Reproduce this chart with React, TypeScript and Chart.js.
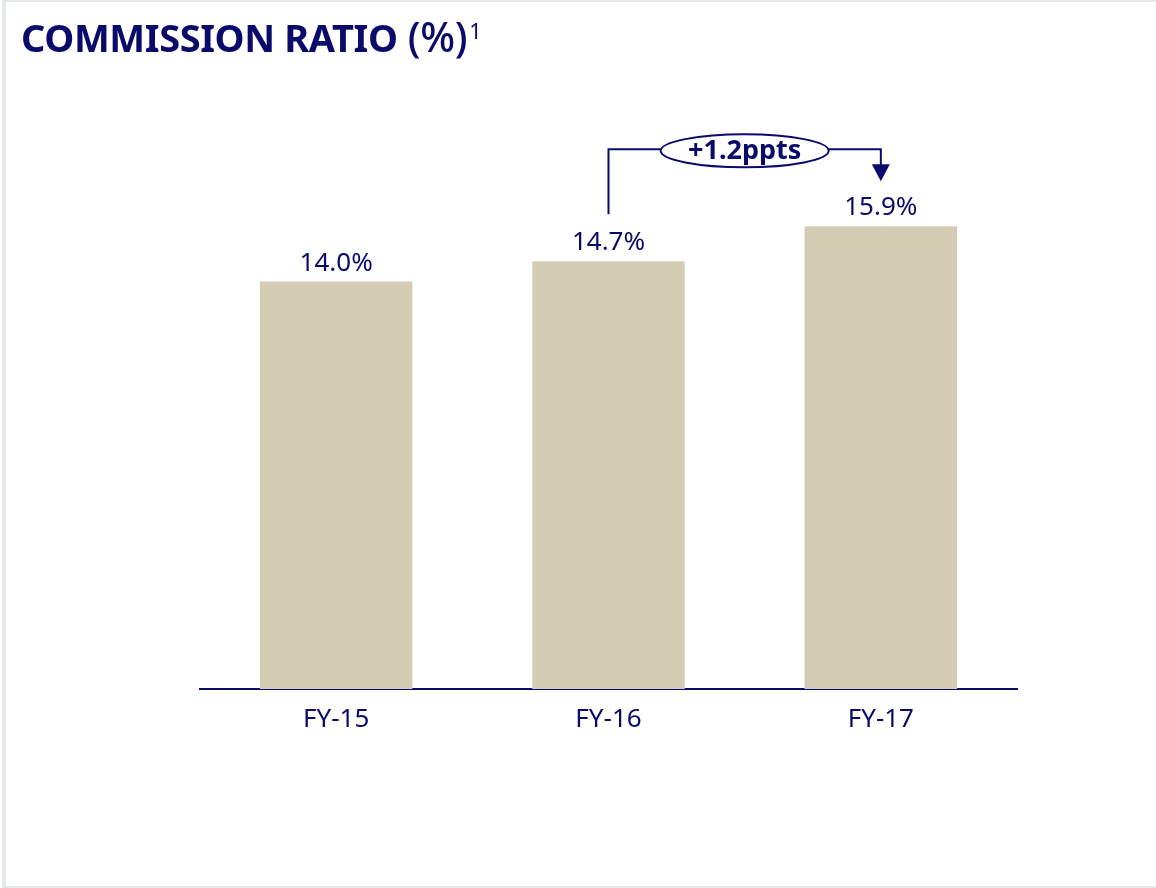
import React, { useEffect, useRef } from "react";
import { Chart, registerables } from "chart.js";

Chart.register(...registerables);

const categories: string[] = ["FY-15", "FY-16", "FY-17"];
const commissionRatio: number[] = [14.0, 14.7, 15.9];
const changeLabel = "+1.2ppts";

const NAVY = "#0a0a6b";
const BAR = "#d5ccb4";
const FONT = "'Noto Sans', 'Open Sans', sans-serif";

const annotationPlugin = {
  id: "annot",
  afterDatasetsDraw(chart: any) {
    const ctx = chart.ctx;
    const meta = chart.getDatasetMeta(0);
    ctx.save();
    // value labels
    ctx.fillStyle = NAVY;
    ctx.font = `26px ${FONT}`;
    ctx.textAlign = "center";
    ctx.textBaseline = "alphabetic";
    meta.data.forEach((bar: any, i: number) => {
      ctx.fillText(commissionRatio[i].toFixed(1) + "%", bar.x, bar.y - 11);
    });
    // bracket from FY-16 to FY-17
    const from = meta.data[1];
    const to = meta.data[2];
    const topY = to.y - 77;
    const startY = from.y - 47;
    const tipY = to.y - 45;
    const midX = (from.x + to.x) / 2 + 0;
    const rx = 84;
    const ry = 16.5;
    const cy = topY + 1.5;
    ctx.strokeStyle = NAVY;
    ctx.lineWidth = 2;
    ctx.beginPath();
    ctx.moveTo(from.x, startY);
    ctx.lineTo(from.x, topY);
    ctx.lineTo(midX - rx, topY);
    ctx.moveTo(midX + rx, topY);
    ctx.lineTo(to.x, topY);
    ctx.lineTo(to.x, tipY - 16);
    ctx.stroke();
    ctx.fillStyle = NAVY;
    ctx.beginPath();
    ctx.moveTo(to.x - 9, tipY - 17);
    ctx.lineTo(to.x + 9, tipY - 17);
    ctx.lineTo(to.x, tipY);
    ctx.closePath();
    ctx.fill();
    ctx.fillStyle = "#ffffff";
    ctx.beginPath();
    ctx.ellipse(midX, cy, rx, ry, 0, 0, Math.PI * 2);
    ctx.fill();
    ctx.stroke();
    ctx.fillStyle = NAVY;
    ctx.font = `bold 27px ${FONT}`;
    ctx.textAlign = "center";
    ctx.textBaseline = "middle";
    ctx.fillText(changeLabel, midX, cy + 1);
    ctx.restore();
  },
};

export default function App() {
  const canvasRef = useRef<HTMLCanvasElement | null>(null);

  useEffect(() => {
    document.body.style.margin = "0";
    const canvas = canvasRef.current;
    if (!canvas) return;
    const chart = new Chart(canvas, {
      type: "bar",
      data: {
        labels: categories,
        datasets: [
          {
            data: commissionRatio,
            backgroundColor: BAR,
            borderWidth: 0,
            barPercentage: 0.56,
            categoryPercentage: 1,
          },
        ],
      },
      options: {
        responsive: false,
        animation: false,
        devicePixelRatio: 1,
        layout: { padding: { left: 200, right: 139, top: 107, bottom: 139 } },
        plugins: {
          legend: { display: false },
          tooltip: { enabled: false },
          title: { display: false },
        },
        scales: {
          x: {
            grid: { display: false, drawTicks: false },
            border: { display: true, color: NAVY, width: 2 },
            ticks: {
              color: NAVY,
              font: { family: FONT, size: 26 },
              padding: 15,
            },
            afterFit: (scale: any) => {
              scale.height = 60;
            },
          },
          y: {
            display: false,
            min: 0,
            max: 20,
          },
        },
      },
      plugins: [annotationPlugin],
    });
    return () => chart.destroy();
  }, []);

  return (
    <div style={{ position: "fixed", left: 0, top: 0, width: 1156, height: 888, background: "#fff" }}>
      <div
        style={{
          position: "absolute",
          left: 2,
          top: 0,
          width: 1150,
          height: 884,
          borderLeft: "4px solid #e6ebe8",
          borderTop: "2px solid #e6ebe8",
          borderBottom: "2px solid #e6ebe8",
        }}
      />
      <canvas ref={canvasRef} width={1156} height={888} style={{ position: "absolute", left: 0, top: 0 }} />
      <div
        style={{
          position: "absolute",
          left: 21,
          top: 16,
          fontFamily: FONT,
          fontSize: 38,
          lineHeight: 1,
          color: NAVY,
          whiteSpace: "nowrap",
          letterSpacing: -0.4,
        }}
      >
        <span style={{ fontWeight: 700 }}>COMMISSION RATIO</span>
        <span style={{ fontWeight: 500, fontSize: 41 }}> (%)</span>
        <sup style={{ fontSize: 22, verticalAlign: "top", position: "relative", top: 3, marginLeft: 2 }}>1</sup>
      </div>
    </div>
  );
}
